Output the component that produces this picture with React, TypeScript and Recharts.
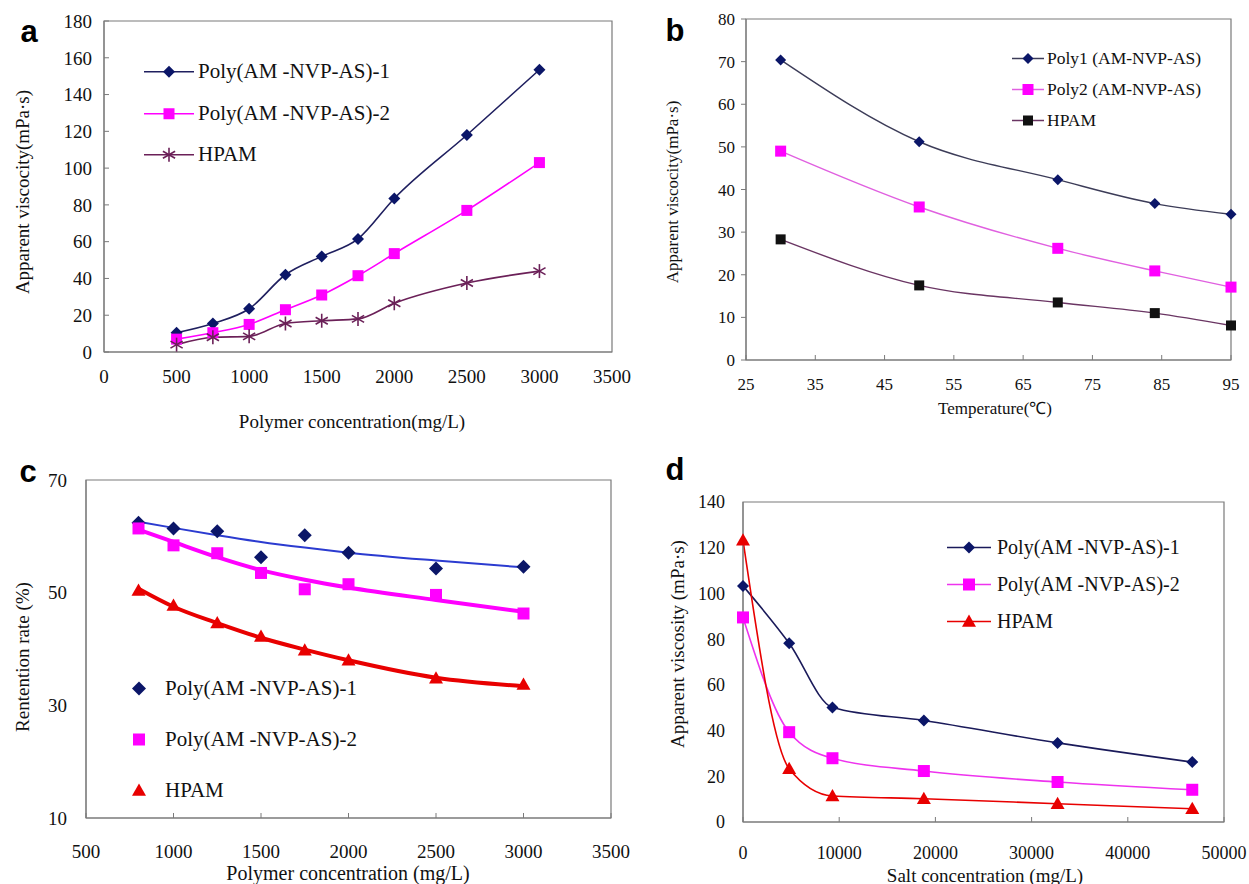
import React from 'react';
import { ComposedChart, Line, Scatter, XAxis, YAxis, ReferenceArea, Legend } from 'recharts';

const SERIF = '"Liberation Serif", "Times New Roman", serif';
const SANS = '"Liberation Sans", Arial, sans-serif';

// (a) viscosity vs polymer concentration
const concA = [500, 750, 1000, 1250, 1500, 1750, 2000, 2500, 3000];
const viscA1 = [10.5, 15.5, 23.5, 42, 52, 61.5, 83.5, 118, 153.5];
const viscA2 = [7, 10.5, 15, 23, 31, 41.5, 53.5, 77, 103];
const viscAH = [4, 8, 8.5, 15.5, 17, 18, 26.5, 37.5, 44];
const ticksAX = [0, 500, 1000, 1500, 2000, 2500, 3000, 3500];
const ticksAY = [0, 20, 40, 60, 80, 100, 120, 140, 160, 180];

// (b) viscosity vs temperature
const tempB = [30, 50, 70, 84, 95];
const viscB1 = [70.4, 51.2, 42.3, 36.7, 34.2];
const viscB2 = [49, 35.9, 26.2, 20.9, 17.1];
const viscBH = [28.3, 17.5, 13.5, 11, 8.1];
const ticksBX = [25, 35, 45, 55, 65, 75, 85, 95];
const ticksBY = [0, 10, 20, 30, 40, 50, 60, 70, 80];

// (c) retention rate vs polymer concentration (points + fitted curves)
const concC = [800, 1000, 1250, 1500, 1750, 2000, 2500, 3000];
const retC1 = [62.4, 61.4, 60.9, 56.3, 60.2, 57.1, 54.3, 54.6];
const retC2 = [61.4, 58.4, 57.0, 53.5, 50.6, 51.5, 49.6, 46.3];
const retCH = [50.4, 47.7, 44.6, 42.2, 39.8, 38.0, 34.8, 33.7];
const fitC1 = [62.6, 61.5, 60.2, 59.0, 58.0, 57.1, 55.7, 54.5];
const fitC2 = [61.2, 59.0, 56.3, 54.0, 52.3, 50.9, 48.7, 46.6];
const fitCH = [50.7, 47.5, 44.6, 42.0, 39.9, 38.0, 34.9, 33.4];
const ticksCX = [500, 1000, 1500, 2000, 2500, 3000, 3500];
const ticksCY = [10, 30, 50, 70];

// (d) viscosity vs salt concentration
const saltD = [0, 4800, 9300, 18800, 32700, 46700];
const viscD1 = [103.3, 78.2, 50.1, 44.4, 34.6, 26.2];
const viscD2 = [89.5, 39.3, 27.9, 22.3, 17.5, 14.1];
const viscDH = [123.3, 23.3, 11.4, 10.2, 8.0, 5.8];
const ticksDX = [0, 10000, 20000, 30000, 40000, 50000];
const ticksDY = [0, 20, 40, 60, 80, 100, 120, 140];

const rowsA = concA.map((x, i) => ({ x, p1: viscA1[i], p2: viscA2[i], h: viscAH[i] }));
const rowsB = tempB.map((x, i) => ({ x, p1: viscB1[i], p2: viscB2[i], h: viscBH[i] }));
const rowsD = saltD.map((x, i) => ({ x, p1: viscD1[i], p2: viscD2[i], h: viscDH[i] }));
const pts = (ys: number[]) => concC.map((x, i) => ({ x, y: ys[i] }));

const NAVY = '#0b1668';
const MAGENTA = '#ff00ff';
const RED = '#e80000';
const FRAME = '#7a7a7a';
const TEXT = '#111';

type Shape = 'diamond' | 'square' | 'star' | 'triangle';

function Marker({ shape, cx, cy, color, size }: { shape: Shape; cx?: number; cy?: number; color: string; size: number }) {
  if (cx == null || cy == null) return null;
  const r = size;
  if (shape === 'diamond') {
    return <path d={`M${cx},${cy - r}L${cx + r},${cy}L${cx},${cy + r}L${cx - r},${cy}Z`} fill={color} />;
  }
  if (shape === 'square') {
    return <rect x={cx - r} y={cy - r} width={2 * r} height={2 * r} fill={color} />;
  }
  if (shape === 'triangle') {
    return <path d={`M${cx},${cy - r}L${cx + r},${cy + r * 0.75}L${cx - r},${cy + r * 0.75}Z`} fill={color} />;
  }
  const dx = r * 0.87;
  const dy = r * 0.5;
  return (
    <g stroke={color} strokeWidth={1.6}>
      <line x1={cx} y1={cy - r} x2={cx} y2={cy + r} />
      <line x1={cx - dx} y1={cy - dy} x2={cx + dx} y2={cy + dy} />
      <line x1={cx - dx} y1={cy + dy} x2={cx + dx} y2={cy - dy} />
    </g>
  );
}

const dotOf = (shape: Shape, color: string, size: number) => (p: any) => (
  <Marker key={`${shape}-${color}-${p.index}`} shape={shape} cx={p.cx} cy={p.cy} color={color} size={size} />
);

type LegendItem = { name: string; shape: Shape; marker: string; size: number; line?: string };

function LegendRows({ items, row, lineW, gap, fontSize }: { items: LegendItem[]; row: number; lineW: number; gap: number; fontSize: number }) {
  return (
    <div style={{ fontFamily: SERIF, fontSize, color: TEXT }}>
      {items.map((it) => (
        <div key={it.name} style={{ display: 'flex', alignItems: 'center', height: row }}>
          <svg width={lineW} height={row} style={{ flexShrink: 0 }}>
            {it.line && <line x1={0} x2={lineW} y1={row / 2} y2={row / 2} stroke={it.line} strokeWidth={1.5} />}
            <Marker shape={it.shape} cx={lineW / 2} cy={row / 2} color={it.marker} size={it.size} />
          </svg>
          <span style={{ marginLeft: gap, whiteSpace: 'nowrap' }}>{it.name}</span>
        </div>
      ))}
    </div>
  );
}

function Title({ x, y, text, size, vertical = false }: { x: number; y: number; text: string; size: number; vertical?: boolean }) {
  return (
    <div
      style={{
        position: 'absolute',
        left: x,
        top: y,
        transform: `translate(-50%, -50%)${vertical ? ' rotate(-90deg)' : ''}`,
        fontFamily: SERIF,
        fontSize: size,
        color: TEXT,
        whiteSpace: 'nowrap',
        lineHeight: 1,
      }}
    >
      {text}
    </div>
  );
}

function Letter({ x, y, text }: { x: number; y: number; text: string }) {
  return (
    <div style={{ position: 'absolute', left: x, top: y, transform: 'translate(-50%, -50%)', fontFamily: SANS, fontWeight: 'bold', fontSize: 31, lineHeight: 1, color: '#000' }}>
      {text}
    </div>
  );
}

const tickFont = (size: number) => ({ fontSize: size, fill: TEXT, fontFamily: SERIF });

function PanelA() {
  const items: LegendItem[] = [
    { name: 'Poly(AM -NVP-AS)-1', shape: 'diamond', marker: NAVY, size: 6, line: '#1f1f5f' },
    { name: 'Poly(AM -NVP-AS)-2', shape: 'square', marker: MAGENTA, size: 5.5, line: MAGENTA },
    { name: 'HPAM', shape: 'star', marker: '#6b2058', size: 7, line: '#6b2058' },
  ];
  return (
    <div style={{ position: 'absolute', left: 0, top: 0 }}>
      <ComposedChart width={640} height={440} data={rowsA} margin={{ top: 21, right: 28, bottom: 48, left: 0 }}>
        <XAxis dataKey="x" type="number" domain={[0, 3500]} ticks={ticksAX} interval={0} height={40}
          tick={tickFont(19)} tickLine={false} tickSize={0} tickMargin={18} axisLine={{ stroke: FRAME }} />
        <YAxis type="number" domain={[0, 180]} ticks={ticksAY} interval={0} width={104}
          tick={tickFont(19)} tickLine={{ stroke: FRAME }} tickSize={-5} tickMargin={17} axisLine={{ stroke: FRAME }} />
        <ReferenceArea x1={0} x2={3500} y1={0} y2={180} fill="none" stroke={FRAME} strokeWidth={1.2} />
        <Line type="monotone" dataKey="p1" stroke="#1f1f5f" strokeWidth={1.6} dot={dotOf('diamond', NAVY, 6)} activeDot={false} isAnimationActive={false} />
        <Line type="monotone" dataKey="p2" stroke={MAGENTA} strokeWidth={1.6} dot={dotOf('square', MAGENTA, 5.5)} activeDot={false} isAnimationActive={false} />
        <Line type="monotone" dataKey="h" stroke="#6b2058" strokeWidth={1.6} dot={dotOf('star', '#6b2058', 7)} activeDot={false} isAnimationActive={false} />
        <Legend layout="vertical" align="center" verticalAlign="middle" wrapperStyle={{ left: 144, top: 51, width: 'auto' }}
          content={() => <LegendRows items={items} row={41.5} lineW={50} gap={4} fontSize={21} />} />
      </ComposedChart>
      <Title x={352} y={421} text="Polymer concentration(mg/L)" size={19} />
      <Title x={22} y={192} text="Apparent viscocity(mPa·s)" size={19} vertical />
      <Letter x={29} y={31} text="a" />
    </div>
  );
}

function PanelB() {
  const items: LegendItem[] = [
    { name: 'Poly1 (AM-NVP-AS)', shape: 'diamond', marker: NAVY, size: 5.5, line: '#3c3c58' },
    { name: 'Poly2 (AM-NVP-AS)', shape: 'square', marker: MAGENTA, size: 5.5, line: '#e060e0' },
    { name: 'HPAM', shape: 'square', marker: '#111', size: 5, line: '#6a3563' },
  ];
  return (
    <div style={{ position: 'absolute', left: 640, top: 0 }}>
      <ComposedChart width={609} height={440} data={rowsB} margin={{ top: 19, right: 18, bottom: 40, left: 0 }}>
        <XAxis dataKey="x" type="number" domain={[25, 95]} ticks={ticksBX} interval={0} height={40}
          tick={tickFont(17)} tickLine={{ stroke: FRAME }} tickSize={-5} tickMargin={23} axisLine={{ stroke: FRAME }} />
        <YAxis type="number" domain={[0, 80]} ticks={ticksBY} interval={0} width={106}
          tick={tickFont(17)} tickLine={{ stroke: FRAME }} tickSize={5} tickMargin={6} axisLine={{ stroke: FRAME }} />
        <ReferenceArea x1={25} x2={95} y1={0} y2={80} fill="none" stroke={FRAME} strokeWidth={1.2} />
        <Line type="monotone" dataKey="p1" stroke="#3c3c58" strokeWidth={1.4} dot={dotOf('diamond', NAVY, 5.5)} activeDot={false} isAnimationActive={false} />
        <Line type="monotone" dataKey="p2" stroke="#e060e0" strokeWidth={1.4} dot={dotOf('square', MAGENTA, 5.5)} activeDot={false} isAnimationActive={false} />
        <Line type="monotone" dataKey="h" stroke="#6a3563" strokeWidth={1.4} dot={dotOf('square', '#111', 5)} activeDot={false} isAnimationActive={false} />
        <Legend layout="vertical" align="center" verticalAlign="middle" wrapperStyle={{ left: 372, top: 43, width: 'auto' }}
          content={() => <LegendRows items={items} row={31} lineW={32} gap={3} fontSize={17.5} />} />
      </ComposedChart>
      <Title x={355} y={408} text="Temperature(℃)" size={17} />
      <Title x={32} y={192} text="Apparent viscocity(mPa·s)" size={17} vertical />
      <Letter x={35} y={30} text="b" />
    </div>
  );
}

function PanelC() {
  const items: LegendItem[] = [
    { name: 'Poly(AM -NVP-AS)-1', shape: 'diamond', marker: NAVY, size: 7 },
    { name: 'Poly(AM -NVP-AS)-2', shape: 'square', marker: MAGENTA, size: 6 },
    { name: 'HPAM', shape: 'triangle', marker: RED, size: 7 },
  ];
  return (
    <div style={{ position: 'absolute', left: 0, top: 440 }}>
      <ComposedChart width={640} height={444} margin={{ top: 40, right: 29, bottom: 26, left: 0 }}>
        <XAxis dataKey="x" type="number" domain={[500, 3500]} ticks={ticksCX} interval={0} height={40}
          tick={tickFont(19)} tickLine={{ stroke: FRAME }} tickSize={-5} tickMargin={32} axisLine={{ stroke: FRAME }} />
        <YAxis dataKey="y" type="number" domain={[10, 70]} ticks={ticksCY} interval={0} width={86}
          tick={tickFont(19)} tickLine={false} tickSize={0} tickMargin={19} axisLine={{ stroke: FRAME }} />
        <ReferenceArea x1={500} x2={3500} y1={10} y2={70} fill="none" stroke={FRAME} strokeWidth={1.2} />
        <Line data={pts(fitC1)} type="monotone" dataKey="y" stroke="#2b3bd0" strokeWidth={2} dot={false} activeDot={false} isAnimationActive={false} />
        <Line data={pts(fitC2)} type="monotone" dataKey="y" stroke={MAGENTA} strokeWidth={4} dot={false} activeDot={false} isAnimationActive={false} />
        <Line data={pts(fitCH)} type="monotone" dataKey="y" stroke={RED} strokeWidth={4} dot={false} activeDot={false} isAnimationActive={false} />
        <Scatter data={pts(retC1)} dataKey="y" isAnimationActive={false}
          shape={(p: any) => <Marker shape="diamond" cx={p.cx} cy={p.cy} color={NAVY} size={7} />} />
        <Scatter data={pts(retC2)} dataKey="y" isAnimationActive={false}
          shape={(p: any) => <Marker shape="square" cx={p.cx} cy={p.cy} color={MAGENTA} size={6} />} />
        <Scatter data={pts(retCH)} dataKey="y" isAnimationActive={false}
          shape={(p: any) => <Marker shape="triangle" cx={p.cx} cy={p.cy} color={RED} size={7} />} />
        <Legend layout="vertical" align="center" verticalAlign="middle" wrapperStyle={{ left: 131, top: 223, width: 'auto' }}
          content={() => <LegendRows items={items} row={51} lineW={16} gap={18} fontSize={21} />} />
      </ComposedChart>
      <Title x={348} y={433} text="Polymer concentration (mg/L)" size={20} />
      <Title x={22} y={217} text="Rentention rate (%)" size={19} vertical />
      <Letter x={28} y={31} text="c" />
    </div>
  );
}

function PanelD() {
  const items: LegendItem[] = [
    { name: 'Poly(AM -NVP-AS)-1', shape: 'diamond', marker: NAVY, size: 6, line: '#1a1a5a' },
    { name: 'Poly(AM -NVP-AS)-2', shape: 'square', marker: MAGENTA, size: 6, line: '#ee33ee' },
    { name: 'HPAM', shape: 'triangle', marker: RED, size: 7, line: RED },
  ];
  return (
    <div style={{ position: 'absolute', left: 640, top: 440 }}>
      <ComposedChart width={609} height={444} data={rowsD} margin={{ top: 62, right: 25, bottom: 22, left: 0 }}>
        <XAxis dataKey="x" type="number" domain={[0, 50000]} ticks={ticksDX} interval={0} height={40}
          tick={tickFont(18)} tickLine={{ stroke: FRAME }} tickSize={-5} tickMargin={29} axisLine={{ stroke: FRAME }} />
        <YAxis type="number" domain={[0, 140]} ticks={ticksDY} interval={0} width={103}
          tick={tickFont(18)} tickLine={false} tickSize={0} tickMargin={18} axisLine={{ stroke: FRAME }} />
        <ReferenceArea x1={0} x2={50000} y1={0} y2={140} fill="none" stroke={FRAME} strokeWidth={1.2} />
        <Line type="monotone" dataKey="p1" stroke="#1a1a5a" strokeWidth={1.6} dot={dotOf('diamond', NAVY, 6)} activeDot={false} isAnimationActive={false} />
        <Line type="monotone" dataKey="p2" stroke="#ee33ee" strokeWidth={1.6} dot={dotOf('square', MAGENTA, 6)} activeDot={false} isAnimationActive={false} />
        <Line type="monotone" dataKey="h" stroke={RED} strokeWidth={1.6} dot={dotOf('triangle', RED, 7)} activeDot={false} isAnimationActive={false} />
        <Legend layout="vertical" align="center" verticalAlign="middle" wrapperStyle={{ left: 307, top: 89, width: 'auto' }}
          content={() => <LegendRows items={items} row={37} lineW={44} gap={6} fontSize={20} />} />
      </ComposedChart>
      <Title x={345} y={435} text="Salt concentration (mg/L)" size={19} />
      <Title x={37} y={204} text="Apparent viscosity (mPa·s)" size={19} vertical />
      <Letter x={35} y={29} text="d" />
    </div>
  );
}

export default function App() {
  return (
    <div style={{ position: 'absolute', left: 0, top: 0, width: 1249, height: 884, background: '#fff', overflow: 'hidden' }}>
      <PanelA />
      <PanelB />
      <PanelC />
      <PanelD />
    </div>
  );
}
